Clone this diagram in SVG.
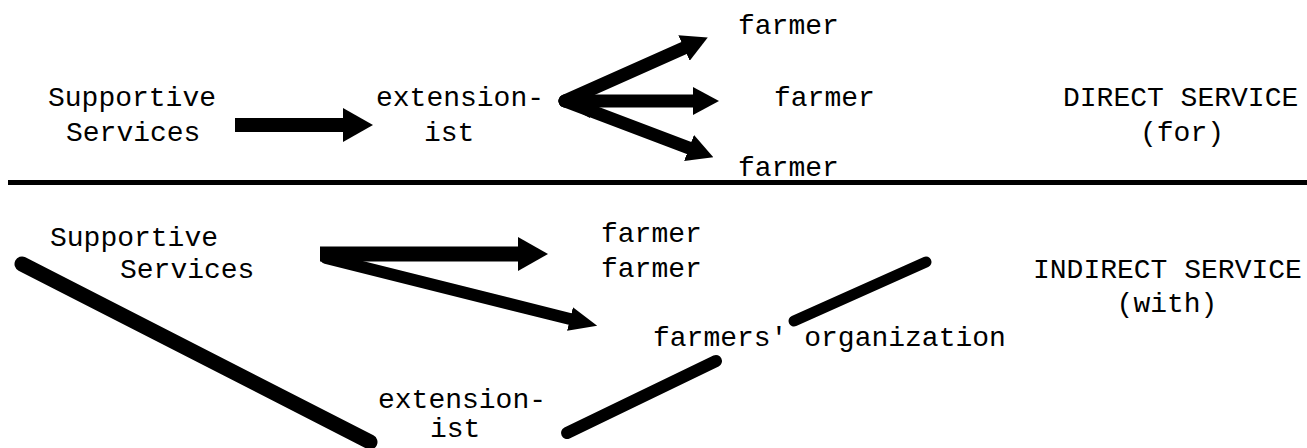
<svg xmlns="http://www.w3.org/2000/svg" width="1307" height="448" viewBox="0 0 1307 448">
<style>
text{font-family:"Liberation Mono","DejaVu Sans Mono",monospace;font-size:28px;fill:#000}
.c{text-anchor:middle}
.sh{stroke:#000;fill:none;stroke-linecap:butt}
.rd{stroke-linecap:round}
</style>
<defs>
<marker id="hL" markerUnits="userSpaceOnUse" viewBox="0 -17 30 34" markerWidth="30" markerHeight="34" refX="0" refY="0" orient="auto"><path d="M0,-17 L30,0 L0,17 Z" fill="#000"/></marker>
<marker id="hM" markerUnits="userSpaceOnUse" viewBox="0 -14 26 28" markerWidth="26" markerHeight="28" refX="0" refY="0" orient="auto"><path d="M0,-14 L26,0 L0,14 Z" fill="#000"/></marker>
<marker id="hS" markerUnits="userSpaceOnUse" viewBox="0 -12 28 24" markerWidth="28" markerHeight="24" refX="0" refY="0" orient="auto"><path d="M0,-12 L28,0 L0,12 Z" fill="#000"/></marker>
</defs>
<rect id="divider" x="8" y="180" width="1299" height="5" fill="#000"/>
<g id="connectors">
<line class="sh" x1="235" y1="125" x2="343" y2="125" stroke-width="14" marker-end="url(#hL)"/>
<path d="M558,101 L590,84 L590,118 Z" fill="#000"/>
<line class="sh rd" x1="565" y1="101" x2="684" y2="48" stroke-width="13" marker-end="url(#hM)"/>
<line class="sh rd" x1="565" y1="101" x2="693" y2="101" stroke-width="13" marker-end="url(#hM)"/>
<line class="sh rd" x1="565" y1="101" x2="689" y2="148" stroke-width="13" marker-end="url(#hM)"/>
<line class="sh" x1="320" y1="254" x2="518" y2="254" stroke-width="15" marker-end="url(#hL)"/>
<line class="sh rd" x1="326" y1="258" x2="570" y2="319" stroke-width="12" marker-end="url(#hS)"/>
<line class="sh rd" x1="22" y1="264" x2="370" y2="442" stroke-width="15"/>
<line class="sh rd" x1="567" y1="433" x2="716" y2="361" stroke-width="12"/>
<line class="sh rd" x1="794" y1="321" x2="926" y2="262" stroke-width="11"/>
</g>
<g id="top-supportive"><text x="48" y="106">Supportive</text><text x="66" y="141">Services</text></g>
<g id="top-extensionist"><text x="376" y="106">extension-</text><text x="424" y="141">ist</text></g>
<g id="top-farmer-1"><text x="738" y="34">farmer</text></g>
<g id="top-farmer-2"><text x="774" y="106">farmer</text></g>
<g id="top-farmer-3"><text x="738" y="176">farmer</text></g>
<g id="direct-service"><text x="1063" y="106">DIRECT SERVICE</text><text class="c" x="1182" y="141">(for)</text></g>
<g id="bottom-supportive"><text x="50" y="246">Supportive</text><text x="120" y="278">Services</text></g>
<g id="bottom-farmers"><text x="601" y="242">farmer</text><text x="601" y="277">farmer</text></g>
<g id="farmers-organization"><text x="653" y="346">farmers' organization</text></g>
<g id="bottom-extensionist"><text x="378" y="408">extension-</text><text x="430" y="437">ist</text></g>
<g id="indirect-service"><text x="1033" y="278">INDIRECT SERVICE</text><text class="c" x="1167" y="312">(with)</text></g>
</svg>
